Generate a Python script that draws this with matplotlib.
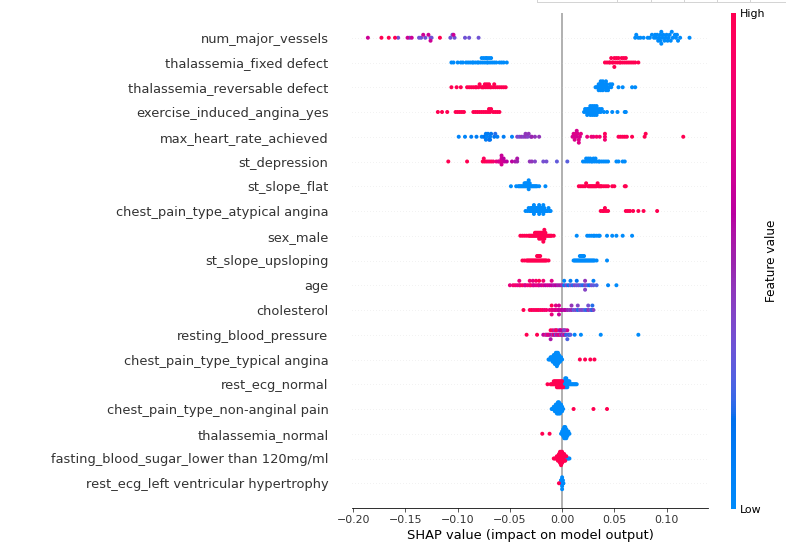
import numpy as np
import matplotlib
matplotlib.use("Agg")
import matplotlib.pyplot as plt
from matplotlib.colors import LinearSegmentedColormap
from matplotlib.lines import Line2D
import matplotlib.cm as cm

# ---------------- data (top to bottom) ----------------
features = [
    "num_major_vessels", "thalassemia_fixed defect", "thalassemia_reversable defect",
    "exercise_induced_angina_yes", "max_heart_rate_achieved", "st_depression",
    "st_slope_flat", "chest_pain_type_atypical angina", "sex_male", "st_slope_upsloping",
    "age", "cholesterol", "resting_blood_pressure", "chest_pain_type_typical angina",
    "rest_ecg_normal", "chest_pain_type_non-anginal pain", "thalassemia_normal",
    "fasting_blood_sugar_lower than 120mg/ml", "rest_ecg_left ventricular hypertrophy",
]

# num_major_vessels: SHAP values grouped by feature value (0,1,2,3)
nmv_0 = [0.070, 0.071, 0.073, 0.075, 0.078, 0.082, 0.084, 0.086, 0.088, 0.089, 0.090, 0.091,
         0.092, 0.093, 0.094, 0.094, 0.095, 0.095, 0.096, 0.097, 0.098, 0.099, 0.100, 0.101,
         0.102, 0.103, 0.104, 0.105, 0.106, 0.108, 0.109, 0.110, 0.111, 0.113, 0.122]
nmv_1 = [-0.157, -0.146, -0.137, -0.135, -0.131, -0.126, -0.125, -0.107, -0.105, -0.103,
         -0.093, -0.089, -0.080]
nmv_2 = [-0.186, -0.148, -0.144, -0.133, -0.128, -0.126, -0.104]
nmv_3 = [-0.173, -0.166, -0.160, -0.117]

# binary features: SHAP values for low (0) and high (1) feature values
fixed_low = [-0.106, -0.104, -0.100, -0.097, -0.095, -0.092, -0.090, -0.088, -0.086, -0.085,
             -0.083, -0.081, -0.080, -0.078, -0.077, -0.076, -0.075, -0.074, -0.073, -0.072,
             -0.072, -0.071, -0.070, -0.069, -0.068, -0.067, -0.065, -0.063, -0.060, -0.058,
             -0.056, -0.053]
fixed_high = [0.041, 0.043, 0.045, 0.046, 0.047, 0.048, 0.049, 0.050, 0.050, 0.051, 0.052,
              0.053, 0.054, 0.055, 0.056, 0.057, 0.058, 0.059, 0.060, 0.061, 0.062, 0.064,
              0.066, 0.068, 0.070, 0.073]
rev_low = [0.032, 0.033, 0.034, 0.035, 0.035, 0.036, 0.036, 0.037, 0.037, 0.038, 0.038, 0.039,
           0.039, 0.040, 0.040, 0.041, 0.041, 0.042, 0.042, 0.043, 0.043, 0.044, 0.045, 0.046,
           0.047, 0.048, 0.054, 0.058, 0.067, 0.070]
rev_high = [-0.106, -0.101, -0.097, -0.091, -0.089, -0.087, -0.085, -0.083, -0.082, -0.080,
            -0.079, -0.077, -0.076, -0.075, -0.074, -0.073, -0.072, -0.071, -0.070, -0.069,
            -0.068, -0.066, -0.065, -0.064, -0.062, -0.060, -0.058, -0.056, -0.054]
exang_low = [0.021, 0.022, 0.023, 0.024, 0.024, 0.025, 0.025, 0.026, 0.026, 0.027, 0.027, 0.028,
             0.028, 0.029, 0.029, 0.030, 0.030, 0.031, 0.031, 0.032, 0.032, 0.033, 0.033, 0.034,
             0.034, 0.035, 0.036, 0.037, 0.038, 0.040, 0.043, 0.048, 0.053, 0.060, 0.061]
exang_high = [-0.119, -0.115, -0.110, -0.102, -0.100, -0.098, -0.096, -0.094, -0.085, -0.083,
              -0.081, -0.079, -0.077, -0.075, -0.073, -0.071, -0.070, -0.069, -0.068, -0.066,
              -0.064, -0.062, -0.060]

# continuous features: SHAP values with normalised feature values (0 = low, 1 = high)
mhr_shap = [-0.099, -0.093, -0.087, -0.082, -0.077, -0.075, -0.074, -0.073, -0.072, -0.071,
            -0.070, -0.069, -0.068, -0.065, -0.064, -0.062, -0.056, -0.048, -0.043, -0.041,
            -0.039, -0.037, -0.035, -0.033, -0.032, -0.030, -0.029, -0.026, -0.022,
            0.010, 0.011, 0.012, 0.013, 0.014, 0.015, 0.016, 0.017, 0.018,
            0.024, 0.028, 0.030, 0.033, 0.036, 0.041, 0.041, 0.041,
            0.054, 0.056, 0.058, 0.060, 0.062, 0.067, 0.079, 0.080, 0.116,
            0.012, 0.014, 0.016, -0.073, -0.069, -0.035]
mhr_val = [0.05, 0.05, 0.10, 0.10, 0.05, 0.10, 0.15, 0.10, 0.05, 0.10,
           0.20, 0.10, 0.15, 0.15, 0.20, 0.10, 0.10, 0.05, 0.40, 0.35,
           0.45, 0.40, 0.45, 0.40, 0.45, 0.40, 0.50, 0.45, 0.45,
           0.70, 0.72, 0.70, 0.75, 0.70, 0.72, 0.75, 0.70, 0.78,
           0.80, 0.85, 0.80, 0.90, 0.85, 0.90, 0.95, 0.85,
           0.95, 1.00, 0.95, 1.00, 0.95, 1.00, 1.00, 1.00, 1.00,
           0.72, 0.70, 0.74, 0.10, 0.15, 0.45]

std_shap = [-0.109, -0.091, -0.076, -0.075, -0.074, -0.072, -0.070, -0.068, -0.066, -0.063,
            -0.061, -0.060, -0.059, -0.058, -0.057, -0.056, -0.055, -0.053, -0.048, -0.045,
            -0.043, -0.031, -0.029, -0.026, -0.018, -0.015, -0.005, 0.005,
            -0.058, -0.058, -0.043]
std_val = [1.00, 1.00, 1.00, 0.95, 1.00, 0.95, 0.90, 0.95, 0.90, 0.80,
           0.75, 0.70, 0.75, 0.65, 0.70, 0.60, 0.65, 0.60, 0.60, 0.55,
           0.50, 0.45, 0.45, 0.40, 0.35, 0.35, 0.30, 0.28,
           0.70, 0.65, 0.55]
std_zero = [0.020, 0.022, 0.023, 0.024, 0.025, 0.026, 0.027, 0.028, 0.029, 0.030, 0.031,
            0.032, 0.033, 0.035, 0.036, 0.038, 0.040, 0.042, 0.044, 0.052, 0.054, 0.058, 0.060]

flat_low = [-0.049, -0.044, -0.042, -0.041, -0.040, -0.039, -0.038, -0.037, -0.036, -0.036,
            -0.035, -0.035, -0.034, -0.034, -0.033, -0.033, -0.032, -0.032, -0.031, -0.031,
            -0.030, -0.029, -0.028, -0.027, -0.026, -0.025, -0.024, -0.022, -0.016]
flat_high = [0.016, 0.018, 0.020, 0.022, 0.023, 0.025, 0.026, 0.027, 0.028, 0.029, 0.030,
             0.031, 0.032, 0.033, 0.034, 0.035, 0.036, 0.037, 0.038, 0.040, 0.042, 0.044,
             0.048, 0.050, 0.060, 0.061]
atyp_low = [-0.035, -0.033, -0.032, -0.031, -0.030, -0.030, -0.029, -0.029, -0.028, -0.028,
            -0.027, -0.027, -0.026, -0.026, -0.025, -0.025, -0.024, -0.024, -0.023, -0.023,
            -0.022, -0.022, -0.021, -0.021, -0.020, -0.020, -0.019, -0.019, -0.018, -0.018,
            -0.017, -0.017, -0.016, -0.015, -0.014, -0.013, -0.012, -0.011]
atyp_high = [0.037, 0.039, 0.040, 0.041, 0.042, 0.044, 0.061, 0.063, 0.065, 0.068, 0.073,
             0.078, 0.091]
male_low = [0.014, 0.024, 0.026, 0.028, 0.030, 0.031, 0.033, 0.035, 0.036, 0.043, 0.048,
            0.052, 0.058, 0.067]
male_high = [-0.040, -0.038, -0.036, -0.034, -0.032, -0.031, -0.030, -0.029, -0.028, -0.027,
             -0.026, -0.026, -0.025, -0.025, -0.024, -0.024, -0.023, -0.023, -0.022, -0.022,
             -0.021, -0.021, -0.020, -0.020, -0.019, -0.019, -0.018, -0.018, -0.017, -0.017,
             -0.016, -0.016, -0.015, -0.014, -0.013, -0.012, -0.011, -0.010, -0.008,
             -0.022, -0.020, -0.018]
up_low = [0.011, 0.012, 0.013, 0.014, 0.015, 0.016, 0.017, 0.017, 0.018, 0.018, 0.019, 0.019,
          0.020, 0.020, 0.021, 0.021, 0.022, 0.023, 0.024, 0.025, 0.026, 0.027, 0.028, 0.029,
          0.030, 0.031, 0.033, 0.043]
up_high = [-0.038, -0.036, -0.034, -0.033, -0.032, -0.031, -0.030, -0.029, -0.028, -0.027,
           -0.026, -0.025, -0.024, -0.024, -0.023, -0.023, -0.022, -0.022, -0.021, -0.021,
           -0.020, -0.019, -0.018, -0.017, -0.016, -0.015, -0.013]

age_shap = [-0.050, -0.047, -0.045, -0.043, -0.041, -0.040, -0.038, -0.036, -0.035, -0.033,
            -0.031, -0.030, -0.028, -0.027, -0.025, -0.023, -0.022, -0.020, -0.018, -0.016,
            -0.014, -0.012, -0.010, -0.008, -0.006, -0.004, -0.002, 0.000, 0.002, 0.004,
            0.006, 0.008, 0.010, 0.012, 0.014, 0.016, 0.018, 0.020, 0.022, 0.024,
            0.026, 0.028, 0.030, 0.033, 0.044, 0.052,
            -0.041, -0.031, -0.028, -0.025, -0.022, -0.018, -0.010, 0.002, 0.008, 0.014,
            0.022, 0.022, 0.030]
age_val = [0.80, 0.85, 0.90, 0.80, 0.75, 0.85, 0.95, 0.80, 0.70, 0.85,
           0.75, 0.90, 0.80, 0.70, 0.75, 0.85, 0.70, 0.65, 0.75, 0.60,
           0.70, 0.65, 0.60, 0.55, 0.60, 0.50, 0.55, 0.45, 0.10, 0.40,
           0.15, 0.35, 0.20, 0.40, 0.30, 0.35, 0.25, 0.20, 0.40, 0.30,
           0.15, 0.35, 0.30, 0.25, 0.05, 0.00,
           0.80, 0.85, 0.80, 0.90, 1.00, 0.85, 0.75, 0.05, 0.10, 0.15,
           0.45, 0.40, 0.10]

chol_shap = [-0.037, -0.031, -0.029, -0.027, -0.025, -0.023, -0.021, -0.019, -0.017, -0.015,
             -0.012, -0.010, -0.009, -0.007, -0.006, -0.004, -0.003, -0.001, 0.000, 0.002,
             0.003, 0.005, 0.007, 0.009, 0.011, 0.013, 0.015, 0.017, 0.019, 0.021,
             0.023, 0.025, 0.027, 0.028, 0.029, 0.030,
             -0.010, -0.010, -0.006, -0.003, -0.003, 0.009, 0.015, 0.025, 0.029]
chol_val = [1.00, 0.95, 1.00, 0.90, 0.95, 1.00, 0.90, 0.95, 0.85, 0.90,
            0.80, 0.85, 0.75, 0.80, 0.70, 0.75, 0.65, 0.70, 0.60, 0.55,
            0.60, 0.50, 0.45, 0.50, 0.30, 0.40, 0.20, 0.35, 0.40, 0.30,
            0.20, 0.45, 0.35, 0.30, 0.15, 0.40,
            1.00, 0.80, 0.75, 0.70, 0.65, 0.45, 0.40, 0.35, 0.20]

rbp_shap = [-0.034, -0.024, -0.018, -0.016, -0.015, -0.013, -0.012, -0.011, -0.010, -0.009,
            -0.008, -0.007, -0.006, -0.005, -0.004, -0.003, -0.002, -0.001, 0.000, 0.001,
            0.002, 0.003, 0.004, 0.005, 0.006, 0.007, 0.008, 0.012, 0.018, 0.037,
            0.073, -0.014, -0.011, -0.009, -0.007, -0.005, -0.003, -0.001, 0.001, 0.003,
            0.005, -0.006, -0.002, 0.002]
rbp_val = [1.00, 1.00, 0.60, 0.90, 0.40, 0.80, 0.50, 1.00, 0.70, 0.40,
           0.90, 0.60, 0.30, 0.80, 0.50, 0.70, 0.90, 0.40, 0.60, 0.30,
           0.80, 0.50, 0.20, 0.70, 0.40, 0.10, 0.30, 0.05, 0.00, 0.00,
           0.00, 0.75, 0.55, 0.85, 0.45, 0.65, 0.35, 0.80, 0.50, 0.70,
           0.25, 0.95, 0.60, 0.40]

typ_low = [-0.013, -0.012, -0.011, -0.011, -0.010, -0.010, -0.009, -0.009, -0.009, -0.008,
           -0.008, -0.008, -0.008, -0.007, -0.007, -0.007, -0.007, -0.007, -0.006, -0.006,
           -0.006, -0.006, -0.006, -0.006, -0.005, -0.005, -0.005, -0.005, -0.005, -0.005,
           -0.005, -0.004, -0.004, -0.004, -0.004, -0.004, -0.004, -0.003, -0.003, -0.003,
           -0.003, -0.002, -0.002, -0.002, -0.001, -0.001, 0.000]
typ_high = [0.017, 0.022, 0.027, 0.031]

ecgn_low = [0.000, 0.001, 0.001, 0.002, 0.002, 0.002, 0.003, 0.003, 0.003, 0.003, 0.004, 0.004,
            0.004, 0.004, 0.005, 0.005, 0.005, 0.006, 0.006, 0.007, 0.007, 0.008, 0.009, 0.010,
            0.011, 0.012, 0.013, 0.014]
ecgn_high = [-0.014, -0.011, -0.010, -0.009, -0.008, -0.008, -0.007, -0.007, -0.006, -0.006,
             -0.005, -0.005, -0.005, -0.004, -0.004, -0.004, -0.003, -0.003, -0.003, -0.002,
             -0.002, -0.002, -0.001, -0.001, -0.001, 0.000, 0.000, 0.001]

nonang_low = [-0.010, -0.009, -0.008, -0.008, -0.007, -0.007, -0.007, -0.006, -0.006, -0.006,
              -0.006, -0.005, -0.005, -0.005, -0.005, -0.005, -0.004, -0.004, -0.004, -0.004,
              -0.004, -0.004, -0.003, -0.003, -0.003, -0.003, -0.003, -0.003, -0.002, -0.002,
              -0.002, -0.002, -0.002, -0.001, -0.001, -0.001, -0.001, 0.000, 0.000, 0.000, 0.001]
nonang_high = [0.011, 0.030, 0.043]

thaln_low = [-0.001, 0.000, 0.000, 0.001, 0.001, 0.001, 0.001, 0.002, 0.002, 0.002, 0.002,
             0.002, 0.002, 0.003, 0.003, 0.003, 0.003, 0.003, 0.003, 0.004, 0.004, 0.004,
             0.004, 0.004, 0.005, 0.005, 0.005, 0.006, 0.006, 0.007]
thaln_high = [-0.019, -0.012]

fbs_low = [0.002, 0.003, 0.004, 0.005, 0.006, 0.007]
fbs_high = [-0.008, -0.007, -0.006, -0.005, -0.005, -0.004, -0.004, -0.004, -0.003, -0.003,
            -0.003, -0.003, -0.002, -0.002, -0.002, -0.002, -0.002, -0.002, -0.001, -0.001,
            -0.001, -0.001, -0.001, -0.001, -0.001, 0.000, 0.000, 0.000, 0.000, 0.000, 0.000,
            0.001, 0.001, 0.001, 0.001, 0.002, 0.002, 0.002, 0.003, 0.003, 0.004]

lvh_low = [-0.0015, -0.0012, -0.0010, -0.0010, -0.0008, -0.0006, -0.0006, -0.0005, -0.0004,
           -0.0003, -0.0003, -0.0002, -0.0002, -0.0001, -0.0001, 0.0000, 0.0000, 0.0000,
           0.0000, 0.0000, 0.0001, 0.0001, 0.0002, 0.0002, 0.0003, 0.0003, 0.0004, 0.0005,
           0.0006, 0.0006, 0.0008, 0.0010, 0.0012]
lvh_high = [-0.0030]

# ---------------- assemble rows ----------------
def binary(low, high):
    return list(low) + list(high), [0.0] * len(low) + [1.0] * len(high)

rows = {
    "num_major_vessels": (nmv_0 + nmv_1 + nmv_2 + nmv_3,
                          [0.0] * len(nmv_0) + [1 / 3] * len(nmv_1) + [2 / 3] * len(nmv_2) + [1.0] * len(nmv_3)),
    "thalassemia_fixed defect": binary(fixed_low, fixed_high),
    "thalassemia_reversable defect": binary(rev_low, rev_high),
    "exercise_induced_angina_yes": binary(exang_low, exang_high),
    "max_heart_rate_achieved": (mhr_shap, mhr_val),
    "st_depression": (std_zero + std_shap, [0.0] * len(std_zero) + std_val),
    "st_slope_flat": binary(flat_low, flat_high),
    "chest_pain_type_atypical angina": binary(atyp_low, atyp_high),
    "sex_male": binary(male_low, male_high),
    "st_slope_upsloping": binary(up_low, up_high),
    "age": (age_shap, age_val),
    "cholesterol": (chol_shap, chol_val),
    "resting_blood_pressure": (rbp_shap, rbp_val),
    "chest_pain_type_typical angina": binary(typ_low, typ_high),
    "rest_ecg_normal": binary(ecgn_low, ecgn_high),
    "chest_pain_type_non-anginal pain": binary(nonang_low, nonang_high),
    "thalassemia_normal": binary(thaln_low, thaln_high),
    "fasting_blood_sugar_lower than 120mg/ml": binary(fbs_low, fbs_high),
    "rest_ecg_left ventricular hypertrophy": binary(lvh_low, lvh_high),
}

# ---------------- SHAP red_blue colormap ----------------
def lch2rgb(L, C, h):
    a = C * np.cos(h)
    b = C * np.sin(h)
    fy = (L + 16) / 116.0
    fx = fy + a / 500.0
    fz = fy - b / 200.0

    def finv(t):
        return np.where(t > 6 / 29, t ** 3, 3 * (6 / 29) ** 2 * (t - 4 / 29))
    X = 0.95047 * finv(fx)
    Y = 1.00000 * finv(fy)
    Z = 1.08883 * finv(fz)
    M = np.array([[3.2404542, -1.5371385, -0.4985314],
                  [-0.9692660, 1.8760108, 0.0415560],
                  [0.0556434, -0.2040259, 1.0572252]])
    rgb = M @ np.array([X, Y, Z])
    rgb = np.where(rgb > 0.0031308, 1.055 * np.clip(rgb, 0, None) ** (1 / 2.4) - 0.055, 12.92 * rgb)
    return np.clip(rgb, 0, 1)

blue_lch = [54.0, 70.0, 4.6588]
l_mid = 40.0
red_lch = [54.0, 90.0, 0.35470565 + 2 * np.pi]
nsteps = 100
l_vals = list(np.linspace(blue_lch[0], l_mid, nsteps // 2)) + list(np.linspace(l_mid, red_lch[0], nsteps // 2))
c_vals = np.linspace(blue_lch[1], red_lch[1], nsteps)
h_vals = np.linspace(blue_lch[2], red_lch[2], nsteps)
cols = [lch2rgb(l, c, h) for l, c, h in zip(l_vals, c_vals, h_vals)]
red_blue = LinearSegmentedColormap.from_list("red_blue", list(zip(np.linspace(0, 1, nsteps), cols)))

# ---------------- beeswarm layout ----------------
def swarm(shaps, row_height=0.4, nbins=100):
    shaps = np.asarray(shaps, float)
    n = len(shaps)
    quant = np.round(nbins * (shaps - shaps.min()) / (shaps.max() - shaps.min() + 1e-8))
    inds = np.argsort(quant, kind="stable")
    layer, last = 0, -1
    ys = np.zeros(n)
    for i in inds:
        if quant[i] != last:
            layer = 0
        ys[i] = np.ceil(layer / 2) * ((layer % 2) * 2 - 1)
        layer += 1
        last = quant[i]
    ys *= 0.9 * (row_height / np.max(ys + 1))
    return ys

# ---------------- figure ----------------
W, H, DPI = 786, 554, 72
fig = plt.figure(figsize=(W / DPI, H / DPI), dpi=DPI)
ax = fig.add_axes([352 / W, 1 - 508 / H, (708 - 352) / W, (508 - 13) / H])

axis_color = "#333333"
n = len(features)
ax.axvline(x=0, color="#999999", zorder=-1)
for k, name in enumerate(features):
    pos = n - 1 - k
    ax.axhline(y=pos, color="#cccccc", lw=0.5, dashes=(1, 5), zorder=-1)
    sv, fv = rows[name]
    sv = np.asarray(sv, float)
    fv = np.asarray(fv, float)
    ys = swarm(sv)
    ax.scatter(sv, pos + ys, c=fv, cmap=red_blue, vmin=0, vmax=1, s=16,
               linewidth=0, zorder=3)

ax.set_xlim(-0.2012, 0.1397)
ax.set_ylim(-1, n)
ax.set_yticks(range(n))
ax.set_yticklabels(features[::-1], fontsize=13)
ax.xaxis.set_ticks_position("bottom")
ax.tick_params(color=axis_color, labelcolor=axis_color)
ax.tick_params("y", length=20, width=0.5, which="major", left=False)
ax.tick_params("x", labelsize=11)
for s in ["right", "top", "left"]:
    ax.spines[s].set_visible(False)
ax.set_xlabel("SHAP value (impact on model output)", fontsize=13)

# colorbar
cax = fig.add_axes([731 / W, 1 - 509 / H, 5 / W, (509 - 13) / H])
m = cm.ScalarMappable(cmap=red_blue)
m.set_array([0, 1])
cb = fig.colorbar(m, cax=cax, ticks=[0, 1])
cb.set_ticklabels(["Low", "High"])
cb.set_label("Feature value", size=12, labelpad=0)
cb.ax.tick_params(labelsize=11, length=0)
cb.outline.set_visible(False)

# remnant frame at the top right
fc = "#d4d4d4"
fig.add_artist(Line2D([537 / W, 1.0], [1 - 1.5 / H] * 2, transform=fig.transFigure, color=fc, lw=1))
for xp in [537, 617, 650.5, 684, 717, 750]:
    fig.add_artist(Line2D([xp / W] * 2, [1.0, 1 - 1.5 / H], transform=fig.transFigure, color=fc, lw=1))

fig.savefig("out.png", dpi=DPI)
